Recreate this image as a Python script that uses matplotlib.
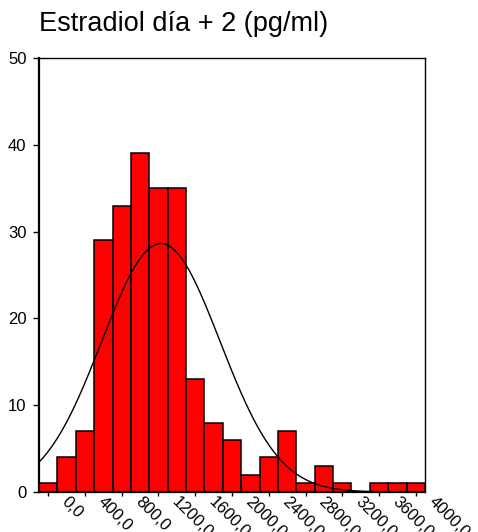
import matplotlib
matplotlib.use("Agg")
import matplotlib.pyplot as plt
import matplotlib.transforms as mtransforms
import numpy as np

plt.rcParams['font.family'] = ['Liberation Sans', 'DejaVu Sans']

# histogram data
bin_centers = np.arange(0, 4001, 200)
counts = [1, 4, 7, 29, 33, 39, 35, 35, 13, 8, 6, 2, 4, 7, 1, 3, 1, 0, 1, 1, 1]
x_ticks = np.arange(0, 4001, 400)
x_labels = ['0,0', '400,0', '800,0', '1200,0', '1600,0', '2000,0',
            '2400,0', '2800,0', '3200,0', '3600,0', '4000,0']
y_ticks = [0, 10, 20, 30, 40, 50]
bin_width = 200

fig = plt.figure(figsize=(4.78, 5.32), dpi=100)
ax = fig.add_axes([39/478, 1-492/532, (425-39)/478, (492-58)/532])

ax.bar(bin_centers, counts, width=bin_width, color='#ff0000', edgecolor='black', linewidth=1.1)

# fitted normal curve (from the counts)
c = np.array(counts, dtype=float)
n = c.sum()
mu = (c*bin_centers).sum()/n
sd = np.sqrt((c*(bin_centers-mu)**2).sum()/(n-1))
xs = np.linspace(-100, 4100, 400)
ys = n*bin_width/(sd*np.sqrt(2*np.pi))*np.exp(-0.5*((xs-mu)/sd)**2)
ax.plot(xs, ys, color='black', linewidth=1)

ax.set_xlim(-100, 4100)
ax.set_ylim(0, 50)
ax.set_yticks(y_ticks)
ax.set_xticks(x_ticks)
ax.set_xticklabels(x_labels, rotation=-45, ha='left', va='top', rotation_mode='anchor')
ax.tick_params(axis='y', labelsize=12, length=4, width=1, direction='out', pad=5)
ax.tick_params(axis='x', labelsize=12, length=3, width=1, direction='out', pad=0)
offset = mtransforms.ScaledTranslation(0.21, 0.02, fig.dpi_scale_trans)
for lab in ax.get_xticklabels():
    lab.set_transform(lab.get_transform() + offset)
ax.spines['left'].set_linewidth(1.6)
ax.spines['bottom'].set_linewidth(1.6)
ax.spines['top'].set_linewidth(1)
ax.spines['right'].set_linewidth(1)

fig.text(39/478, 1-24/532, 'Estradiol día + 2 (pg/ml)', fontsize=19.5, va='center', ha='left')

fig.savefig('out.png', dpi=100)
